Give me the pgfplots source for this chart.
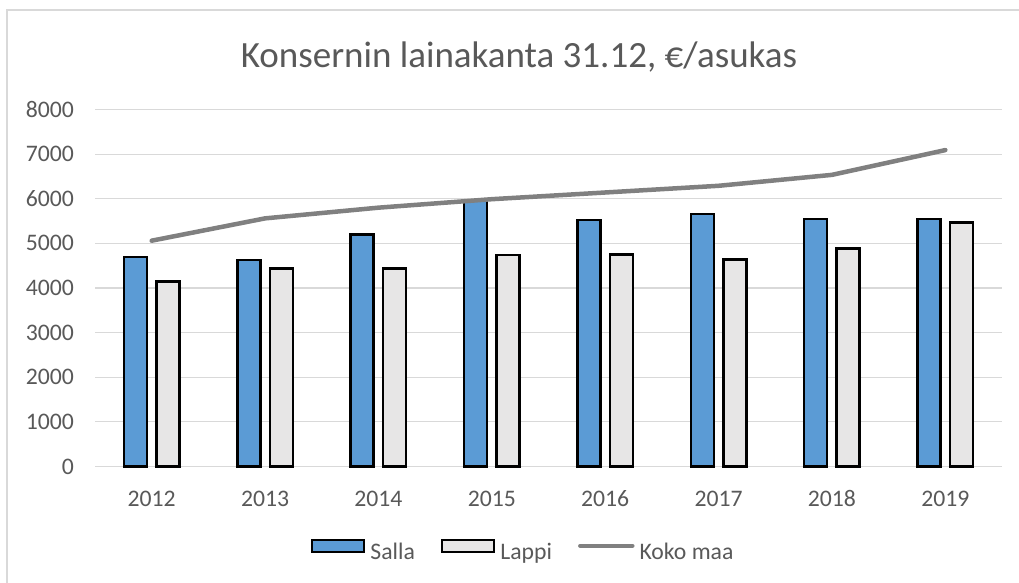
\documentclass[border=0pt]{standalone}
\usepackage{fontspec}
\setmainfont{Carlito}
\usepackage{pgfplots}
\usepackage{pgfplotstable}
\pgfplotsset{compat=1.18}
\definecolor{sallablue}{HTML}{5B9BD5}
\definecolor{lappigray}{HTML}{E7E6E6}
\definecolor{linegray}{HTML}{808080}
\definecolor{gridgray}{HTML}{D9D9D9}
\definecolor{textgray}{HTML}{595959}
\pgfplotstableread{
x year salla lappi koko
0 2012 4690 4140 5060
1 2013 4630 4435 5560
2 2014 5200 4435 5800
3 2015 5975 4740 5990
4 2016 5525 4750 6140
5 2017 5660 4635 6290
6 2018 5550 4890 6535
7 2019 5550 5465 7090
}\datatable
\begin{document}
\begin{tikzpicture}[x=1bp,y=1bp]
\path[use as bounding box] (0,0) rectangle (1019,583);
\fill[white] (0,0) rectangle (1019,583);
\draw[gridgray, line width=2bp] (7,0) -- (7,573) -- (1019,573);
\node[font=\fontsize{37bp}{44bp}\selectfont, text=textgray] at (519,526) {Konsernin lainakanta 31.12, €/asukas};
\begin{axis}[
  at={(95bp,116.5bp)}, anchor=south west,
  scale only axis, width=907bp, height=357bp,
  xmin=-0.5, xmax=7.5, ymin=0, ymax=8000,
  xtick={0,...,7}, xticklabels={2012,2013,2014,2015,2016,2017,2018,2019},
  ytick={0,1000,...,8000},
  /pgf/number format/set thousands separator={},
  /pgf/number format/assume math mode=true,
  ymajorgrids, grid style={color=gridgray, line width=1.2bp},
  axis x line*=bottom, axis y line*=left,
  x axis line style={gridgray, line width=1.5bp, -},
  y axis line style={draw=none},
  major tick length=0pt,
  tick label style={font=\fontsize{23.7bp}{28bp}\selectfont, text=textgray},
  yticklabel style={inner sep=0pt, xshift=-21bp},
  xticklabel style={inner sep=0pt, yshift=-24bp},
  clip=false,
  legend columns=3,
  legend style={at={(0.471,-0.233)}, anchor=center, draw=none, fill=none,
    font=\fontsize{23.7bp}{28bp}\selectfont, text=textgray,
    nodes={inner sep=0pt},
    /tikz/every odd column/.append style={column sep=5bp},
    /tikz/every even column/.append style={column sep=26bp}},
]
\addplot[ybar, bar width=23bp, bar shift=-16.25bp, fill=sallablue, draw=black, line width=2.5bp,
  legend image code/.code={\draw[fill=sallablue, draw=black, line width=2.5bp] (0bp,0bp) rectangle (52bp,12bp);}]
  table[x=x, y=salla] {\datatable};
\addlegendentry{Salla}
\addplot[ybar, bar width=23bp, bar shift=16.25bp, fill=lappigray, draw=black, line width=2.5bp,
  legend image code/.code={\draw[fill=lappigray, draw=black, line width=2.5bp] (0bp,0bp) rectangle (52bp,12bp);}]
  table[x=x, y=lappi] {\datatable};
\addlegendentry{Lappi}
\addplot[linegray, line width=4.5bp, line cap=round, line join=round, mark=none,
  legend image code/.code={\draw[linegray, line width=4.5bp, line cap=round] (1bp,6bp) -- (53bp,6bp);}]
  table[x=x, y=koko] {\datatable};
\addlegendentry{Koko maa}
\end{axis}
\end{tikzpicture}
\end{document}
